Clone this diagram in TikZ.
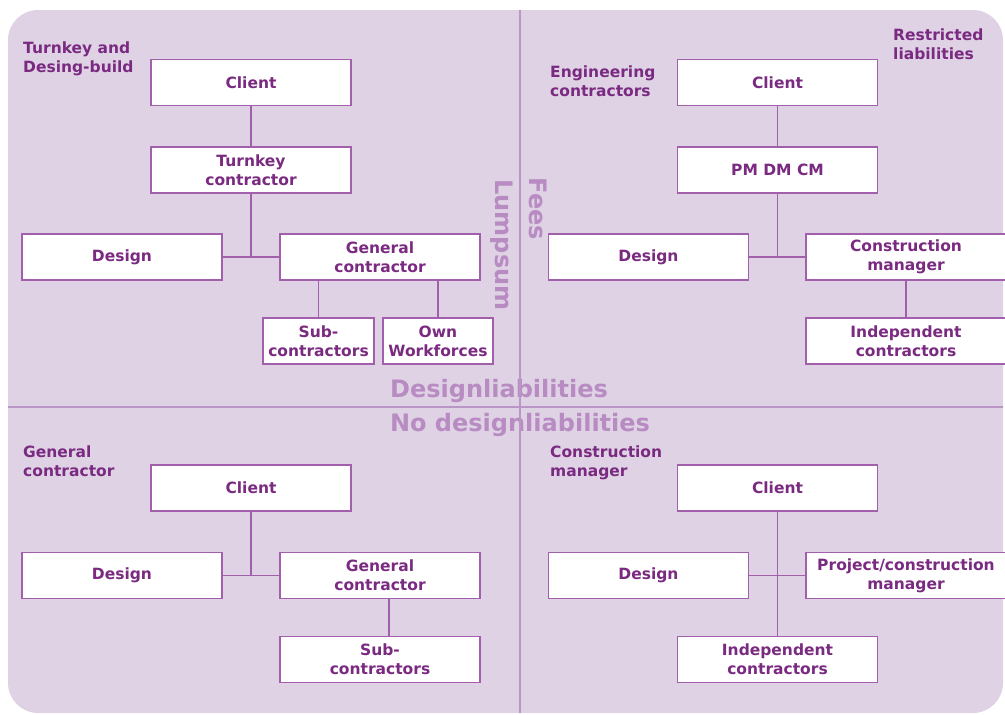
\documentclass[tikz,border=0pt]{standalone}
\usepackage{fontspec}
\setmainfont{DejaVu Sans}
\usepackage{tikz}
\usepackage{xcolor}
\definecolor{panel}{RGB}{223,210,229}
\definecolor{boxline}{RGB}{162,96,172}
\definecolor{boxtext}{RGB}{122,42,128}
\definecolor{bigtext}{RGB}{184,140,194}
\definecolor{divider}{RGB}{186,150,198}

\begin{document}
\begin{tikzpicture}[x=1pt,y=-1pt,
        org/.style={draw=boxline,fill=white,line width=1.5pt,minimum height=46pt,inner sep=2pt,align=center,text=boxtext,font=\fontsize{15.5}{19}\selectfont\bfseries},
        wide/.style={org,minimum width=200pt},
        narrow/.style={org,minimum width=111pt},
        link/.style={draw=boxline,line width=1.5pt},
        tag/.style={anchor=north west,inner sep=0pt,align=left,text=boxtext,font=\fontsize{15.5}{19}\selectfont\bfseries},
        big/.style={text=bigtext,inner sep=0pt,font=\fontsize{24}{28}\selectfont\bfseries}]
        \useasboundingbox (0,0) rectangle (1005,715);

        % Panel
        \fill[panel,rounded corners=30pt] (8,10) rectangle (1003,713);

        % Turnkey / design-build (top left)
        \node[wide] (tlclient) at (251,82.5) {Client};
        \node[wide] (tlturnkey) at (251,170) {Turnkey\\contractor};
        \node[wide] (tldesign) at (122,257) {Design};
        \node[wide] (tlgeneral) at (380,257) {General\\contractor};
        \node[narrow] (tlsub) at (318.5,341) {Sub-\\contractors};
        \node[narrow,minimum width=110pt] (tlown) at (438,341) {Own\\Workforces};
        \draw[link] (tlclient) -- (tlturnkey);
        \draw[link] (tlturnkey.south) |- (tldesign.east);
        \draw[link] (tldesign) -- (tlgeneral);
        \draw[link] (tlsub) -- (tlsub |- tlgeneral.south);
        \draw[link] (tlown) -- (tlown |- tlgeneral.south);

        % Engineering contractors (top right)
        \node[wide] (trclient) at (777.5,82.5) {Client};
        \node[wide] (trpm) at (777.5,170) {PM DM CM};
        \node[wide] (trdesign) at (648.5,257) {Design};
        \node[wide] (trcm) at (906,257) {Construction\\manager};
        \node[wide] (trindep) at (906,341) {Independent\\contractors};
        \draw[link] (trclient) -- (trpm);
        \draw[link] (trpm.south) |- (trdesign.east);
        \draw[link] (trdesign) -- (trcm);
        \draw[link] (trcm) -- (trindep);

        % General contractor (bottom left)
        \node[wide] (blclient) at (251,488) {Client};
        \node[wide] (bldesign) at (122,575.5) {Design};
        \node[wide] (blgeneral) at (380,575.5) {General\\contractor};
        \node[wide] (blsub) at (380,659.5) {Sub-\\contractors};
        \draw[link] (blclient.south) |- (bldesign.east);
        \draw[link] (bldesign) -- (blgeneral);
        \draw[link] ([xshift=9pt]blgeneral.south) -- ([xshift=9pt]blsub.north);

        % Construction manager (bottom right)
        \node[wide] (brclient) at (777.5,488) {Client};
        \node[wide] (brdesign) at (648.5,575.5) {Design};
        \node[wide] (brpcm) at (906,575.5) {Project/construction\\manager};
        \node[wide] (brindep) at (777.5,659.5) {Independent\\contractors};
        \draw[link] (brclient) -- (brindep);
        \draw[link] (brdesign) -- (brpcm);

        % Quadrant titles
        \node[tag] (tltag) at (23,42) {Turnkey and\\Desing-build};
        \node[tag] (trtag) at (550,66) {Engineering\\contractors};
        \node[tag] (rltag) at (893,29) {Restricted\\liabilities};
        \node[tag] (bltag) at (23,446) {General\\contractor};
        \node[tag] (brtag) at (550,446) {Construction\\manager};

        % Axis labels
        \node[big,anchor=base] (dl) at (499,397) {Designliabilities};
        \node[big,anchor=base] (nodl) at (520,431) {No designliabilities};
        \node[big,rotate=-90] (lump) at (502,245) {Lumpsum};
        \node[big,rotate=-90] (fees) at (538,209) {Fees};

        % Quadrant dividers
        \draw[divider,line width=1.3pt] (520,10) -- (520,713);
        \draw[divider,line width=1.3pt] (8,407) -- (1003,407);
\end{tikzpicture}
\end{document}
